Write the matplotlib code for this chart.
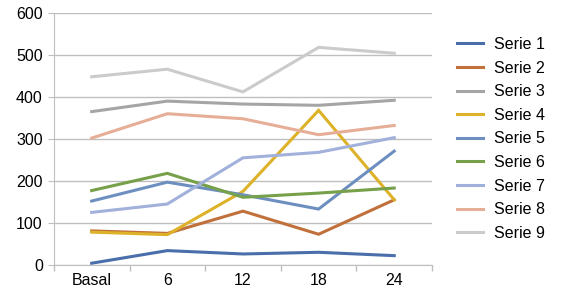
import numpy as np
import matplotlib.pyplot as plt

categories = ["Basal", "6", "12", "18", "24"]
series_names = ["Serie 1", "Serie 2", "Serie 3", "Serie 4", "Serie 5",
                "Serie 6", "Serie 7", "Serie 8", "Serie 9"]
serie1 = [4, 34, 26, 30, 22]
serie2 = [81, 75, 128, 73, 155]
serie3 = [365, 390, 383, 380, 392]
serie4 = [78, 72, 175, 368, 155]
serie5 = [152, 197, 167, 133, 271]
serie6 = [177, 218, 161, 171, 183]
serie7 = [125, 145, 255, 268, 303]
serie8 = [302, 360, 348, 310, 332]
serie9 = [448, 466, 412, 518, 504]
values = [serie1, serie2, serie3, serie4, serie5, serie6, serie7, serie8, serie9]
colors = ["#4A6EAA", "#C0703A", "#A5A5A5", "#DDB228", "#6D8FC0",
          "#77A04A", "#A2B1DB", "#E6AE96", "#CBCBCB"]

plt.rcParams['font.family'] = ['Liberation Sans', 'DejaVu Sans']

fig = plt.figure(figsize=(5.67, 2.94), dpi=100)
ax = fig.add_axes([0.095, 0.099, 0.667, 0.857])

x = np.arange(len(categories))
for name, vals, c in zip(series_names, values, colors):
    ax.plot(x, vals, color=c, lw=2.2, label=name, solid_joinstyle='miter')

ax.set_xlim(-0.5, len(categories) - 0.5)
ax.set_ylim(0, 600)
ax.set_yticks(range(0, 601, 100))
ax.set_xticks(x)
ax.set_xticklabels(categories)
ax.set_xticks(np.arange(-0.5, len(categories), 1), minor=True)
ax.tick_params(axis='x', which='major', length=0, labelsize=11.5, pad=6)
ax.tick_params(axis='x', which='minor', length=4, color='#BFBFBF', width=1)
ax.tick_params(axis='y', length=4, color='#BFBFBF', labelsize=11.5, pad=4)
ax.grid(axis='y', color='#BFBFBF', lw=1)
ax.set_axisbelow(True)
for s in ['top', 'right']:
    ax.spines[s].set_visible(False)
for s in ['left', 'bottom']:
    ax.spines[s].set_color('#BFBFBF')

ax.legend(loc='center left', bbox_to_anchor=(1.05, 0.5), frameon=False,
          borderaxespad=0, fontsize=11.5, handlelength=1.6, labelspacing=0.54,
          handletextpad=0.7)

fig.savefig("out.png", dpi=100)
